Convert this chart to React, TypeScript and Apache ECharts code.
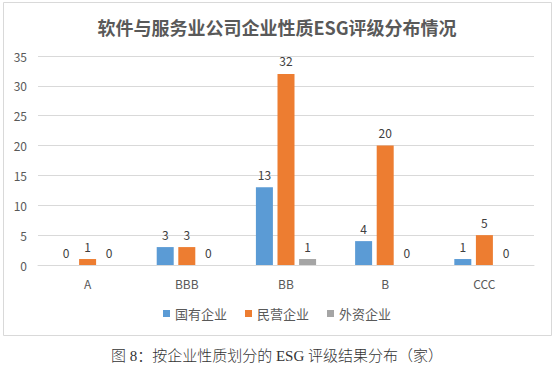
import React, { useEffect, useRef } from "react";
import * as echarts from "echarts";

const categories = ["A", "BBB", "BB", "B", "CCC"];
const seriesNames = ["国有企业", "民营企业", "外资企业"];
const stateOwned = [0, 3, 13, 4, 1];
const privateOwned = [1, 3, 32, 20, 5];
const foreignOwned = [0, 0, 1, 0, 0];
const colors = ["#5B9BD5", "#ED7D31", "#A5A5A5"];
const yTicks = { min: 0, max: 35, interval: 5 };
const titleText = "软件与服务业公司企业性质ESG评级分布情况";
const captionText = "图 8：按企业性质划分的 ESG 评级结果分布（家）";

export default function App() {
  const ref = useRef<HTMLDivElement>(null);
  useEffect(() => {
    document.body.style.margin = "0";
    const chart = echarts.init(ref.current!, null, { renderer: "svg" });
    const font = "'Microsoft YaHei', 'Noto Sans CJK SC', sans-serif";
    const dataSets = [stateOwned, privateOwned, foreignOwned];
    chart.setOption({
      animation: false,
      backgroundColor: "#ffffff",
      textStyle: { fontFamily: font },
      title: {
        text: titleText,
        left: "center",
        top: 13,
        textStyle: { fontSize: 18, fontWeight: "bold", color: "#595959", fontFamily: font },
      },
      legend: {
        data: seriesNames,
        left: "center",
        top: 302,
        icon: "rect",
        itemWidth: 7,
        itemHeight: 7,
        itemGap: 18,
        textStyle: { fontSize: 13, color: "#595959", fontFamily: font },
      },
      grid: { left: 38, right: 20, top: 56, bottom: 108, containLabel: false },
      xAxis: {
        type: "category",
        data: categories,
        axisLine: { lineStyle: { color: "#d9d9d9" } },
        axisTick: { show: false },
        axisLabel: { color: "#595959", fontSize: 12, margin: 12 },
      },
      yAxis: {
        type: "value",
        min: yTicks.min,
        max: yTicks.max,
        interval: yTicks.interval,
        axisLine: { show: false },
        axisTick: { show: false },
        axisLabel: { color: "#595959", fontSize: 12, margin: 11 },
        splitLine: { lineStyle: { color: "#d9d9d9" } },
      },
      graphic: [
        {
          type: "rect",
          shape: { x: 3.5, y: 2.5, width: 548, height: 333 },
          style: { fill: "none", stroke: "#d9d9d9", lineWidth: 1 },
          z: -1,
        },
        {
          type: "text",
          x: 277,
          y: 356,
          style: {
            text: captionText,
            fontSize: 15,
            fontWeight: 300,
            fontFamily: "'Liberation Serif', 'Noto Sans CJK SC', serif",
            fill: "#333333",
            align: "center",
            verticalAlign: "middle",
          },
        },
      ],
      series: seriesNames.map((name, i) => ({
        name,
        type: "bar",
        data: dataSets[i],
        barWidth: 17,
        barGap: "27%",
        itemStyle: { color: colors[i] },
        label: {
          show: true,
          position: "top",
          distance: 7,
          color: "#404040",
          fontSize: 12,
        },
      })),
    });
    return () => chart.dispose();
  }, []);
  return (
    <div
      ref={ref}
      style={{ position: "absolute", left: 0, top: 0, width: 554, height: 373 }}
    />
  );
}
